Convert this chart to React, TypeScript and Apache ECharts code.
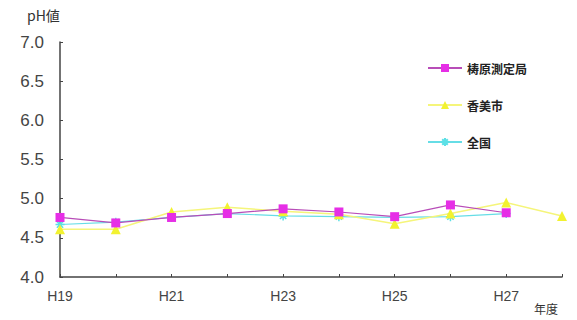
import React, { useEffect, useRef } from "react";
import * as echarts from "echarts";

const categories = ["H19", "H20", "H21", "H22", "H23", "H24", "H25", "H26", "H27", "H28"];
const yusuhara = [4.76, 4.69, 4.76, 4.81, 4.87, 4.83, 4.77, 4.92, 4.82, null];
const kami = [4.61, 4.61, 4.83, 4.89, 4.84, 4.8, 4.68, 4.81, 4.95, 4.78];
const national = [4.67, 4.7, 4.76, 4.81, 4.78, 4.77, 4.76, 4.77, 4.81, null];
const seriesNames = ["梼原測定局", "香美市", "全国"];
const yAxisName = "pH値";
const xAxisName = "年度";

const asterisk =
  "path://M5,0L5,10M0,5L10,5M1.5,1.5L8.5,8.5M8.5,1.5L1.5,8.5";

export default function App() {
  const ref = useRef<HTMLDivElement>(null);
  useEffect(() => {
    const chart = echarts.init(ref.current!, null, { renderer: "svg" });
    const font = "'Liberation Sans', 'Noto Sans CJK JP', sans-serif";
    const jp = "'Noto Sans CJK JP', sans-serif";
    chart.setOption({
      animation: false,
      textStyle: { fontFamily: font },
      grid: { left: 60, right: 15, top: 42, bottom: 43 },
      legend: {
        orient: "vertical",
        left: 422,
        top: 57,
        itemGap: 25,
        itemWidth: 34,
        itemHeight: 10,
        textStyle: { fontSize: 12, color: "#222", fontFamily: jp, fontWeight: "bold" },
        data: seriesNames,
      },
      graphic: [
        {
          type: "text",
          left: 27,
          top: 8,
          style: { text: yAxisName, fontSize: 14, fill: "#333", fontFamily: jp },
        },
        {
          type: "text",
          left: 534,
          top: 302,
          style: { text: xAxisName, fontSize: 12, fill: "#333", fontFamily: jp },
        },
      ],
      xAxis: {
        type: "category",
        data: categories,
        boundaryGap: false,
        axisLine: { lineStyle: { color: "#444", width: 1.5 } },
        axisTick: { inside: true, length: 3, interval: 0, lineStyle: { color: "#444" } },
        axisLabel: { interval: 1, color: "#444", fontSize: 14, margin: 12 },
      },
      yAxis: {
        type: "value",
        min: 4.0,
        max: 7.0,
        interval: 0.5,
        splitLine: { show: false },
        axisLine: { show: true, lineStyle: { color: "#444", width: 1.5 } },
        axisTick: { show: true, inside: true, length: 3, lineStyle: { color: "#444" } },
        axisLabel: {
          color: "#444",
          fontSize: 17,
          margin: 16,
          formatter: (v: number) => v.toFixed(1),
        },
      },
      series: [
        {
          name: seriesNames[0],
          type: "line",
          data: yusuhara,
          symbol: "rect",
          symbolSize: 9,
          itemStyle: { color: "#E62EE6" },
          lineStyle: { color: "#B84DB8", width: 1.2 },
          z: 3,
        },
        {
          name: seriesNames[1],
          type: "line",
          data: kami,
          symbol: "triangle",
          symbolSize: 10,
          itemStyle: { color: "#F2F230" },
          lineStyle: { color: "#F5F57A", width: 1.5 },
          z: 2,
        },
        {
          name: seriesNames[2],
          type: "line",
          data: national,
          symbol: asterisk,
          symbolSize: 9,
          itemStyle: { color: "#fff", borderColor: "#5CE0E6", borderWidth: 1.5 },
          lineStyle: { color: "#66DDE6", width: 1.2 },
          z: 1,
        },
      ],
    });
    return () => chart.dispose();
  }, []);
  return <div ref={ref} style={{ width: 577, height: 320, position: "absolute", left: 0, top: 0 }} />;
}
